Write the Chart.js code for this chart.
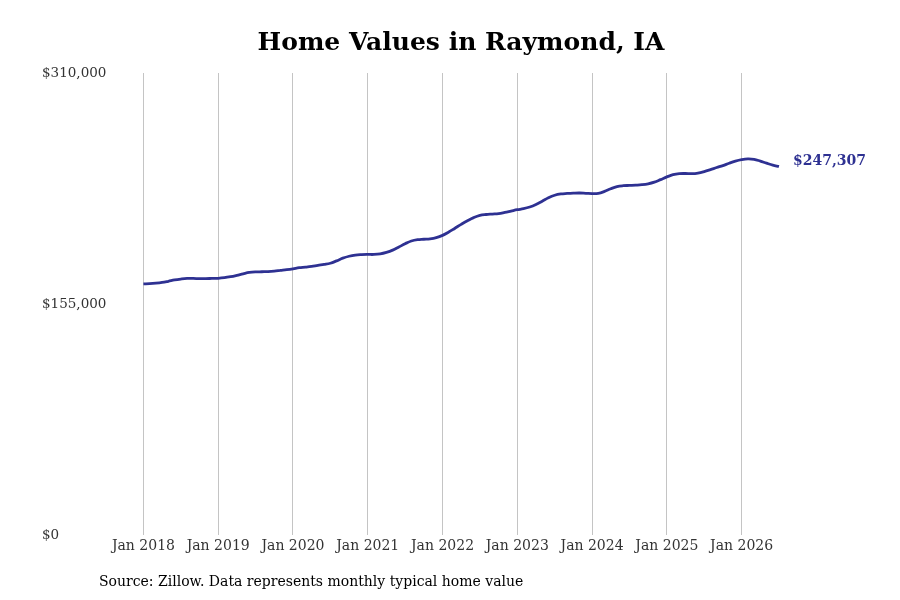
<!DOCTYPE html>
<html>
<head>
<meta charset="utf-8">
<title>Home Values in Raymond, IA</title>
<script src="https://cdn.jsdelivr.net/npm/chart.js@4.4.1/dist/chart.umd.min.js"></script>
<style>
  html, body { margin: 0; padding: 0; background: #fff; }
  #wrap { width: 900px; height: 600px; position: relative; }
</style>
</head>
<body>
<div id="wrap"><canvas id="homeChart" width="900" height="600"></canvas></div>
<script>
const years = [2018, 2019, 2020, 2021, 2022, 2023, 2024, 2025, 2026];
const monthNames = ["Jan", "Feb", "Mar", "Apr", "May", "Jun", "Jul", "Aug", "Sep", "Oct", "Nov", "Dec"];

// typical home value, in thousands of dollars, one row per year (Jan..Dec)
const values2018 = [168.6, 168.7, 169.0, 169.5, 170.3, 171.2, 171.8, 172.2, 172.2, 172.1, 172.1, 172.2];
const values2019 = [172.3, 172.7, 173.4, 174.3, 175.3, 176.2, 176.6, 176.7, 176.8, 177.1, 177.6, 178.1];
const values2020 = [178.7, 179.4, 179.8, 180.3, 181.0, 181.6, 182.4, 184.0, 185.8, 187.1, 187.9, 188.2];
const values2021 = [188.3, 188.3, 188.7, 189.7, 191.2, 193.3, 195.5, 197.3, 198.2, 198.5, 198.8, 199.6];
const values2022 = [201.1, 203.3, 205.9, 208.5, 210.9, 213.0, 214.5, 215.1, 215.4, 215.7, 216.5, 217.4];
const values2023 = [218.3, 219.0, 220.1, 221.8, 224.0, 226.3, 228.0, 228.9, 229.2, 229.4, 229.5, 229.3];
const values2024 = [229.1, 229.3, 230.6, 232.4, 233.8, 234.4, 234.6, 234.8, 235.1, 235.7, 236.8, 238.5];
const values2025 = [240.3, 241.8, 242.5, 242.6, 242.5, 242.9, 243.9, 245.2, 246.6, 247.9, 249.5, 250.9];
const values2026 = [251.9, 252.4, 252.1, 250.9, 249.5, 248.2, 247.307];

const yTicks = [0, 155000, 310000];
const chartTitle = "Home Values in Raymond, IA";
const sourceNote = "Source: Zillow. Data represents monthly typical home value";
const lineColor = "#2e3192";

const serif = "'DejaVu Serif', serif";

function buildLabels() {
  const labels = [];
  const all = [values2018, values2019, values2020, values2021, values2022, values2023, values2024, values2025, values2026];
  all.forEach((row, i) => {
    row.forEach((v, m) => labels.push(monthNames[m] + " " + years[i]));
  });
  return labels;
}

function buildValues() {
  return [].concat(values2018, values2019, values2020, values2021, values2022,
    values2023, values2024, values2025, values2026).map(v => Math.round(v * 1000));
}

function money(v) {
  return "$" + v.toLocaleString("en-US");
}

// title, label at the end of the line, source note under the chart
const extras = {
  id: "extras",
  afterDatasetsDraw(chart) {
    const ctx = chart.ctx;
    const meta = chart.getDatasetMeta(0);
    const last = meta.data[meta.data.length - 1];
    const data = chart.data.datasets[0].data;
    ctx.save();
    ctx.textBaseline = "middle";

    ctx.font = "bold 25px " + serif;
    ctx.fillStyle = "#000";
    ctx.textAlign = "center";
    ctx.fillText(chartTitle, 461, 43);

    ctx.font = "bold 14px " + serif;
    ctx.fillStyle = lineColor;
    ctx.textAlign = "left";
    ctx.fillText(money(data[data.length - 1]), last.x + 14, last.y - 5);

    ctx.font = "14px " + serif;
    ctx.fillStyle = "#000";
    ctx.fillText(sourceNote, 99, 582);
    ctx.restore();
  }
};

window.onload = function () {
  const ctx = document.getElementById("homeChart").getContext("2d");
  const labels = buildLabels();

  new Chart(ctx, {
    type: "line",
    data: {
      labels: labels,
      datasets: [{
        data: buildValues(),
        borderColor: lineColor,
        borderWidth: 2.8,
        pointRadius: 0,
        tension: 0.4,
        fill: false
      }]
    },
    options: {
      responsive: false,
      animation: false,
      layout: { padding: { top: 73, left: 42, right: 121, bottom: 42 } },
      plugins: {
        legend: { display: false },
        tooltip: { enabled: false },
        title: { display: false }
      },
      scales: {
        x: {
          offset: false,
          border: { display: false },
          grid: {
            color: "#c4c4c4",
            lineWidth: 1,
            drawTicks: false
          },
          ticks: {
            autoSkip: false,
            maxRotation: 0,
            minRotation: 0,
            padding: 3,
            color: "#333",
            font: { family: serif, size: 14 },
            callback: function (val, i) {
              const lab = labels[i];
              return lab.startsWith("Jan") ? lab : null;
            }
          }
        },
        y: {
          min: 0,
          max: 310000,
          border: { display: false },
          grid: { display: false, drawTicks: false },
          afterBuildTicks: function (axis) {
            axis.ticks = yTicks.map(v => ({ value: v }));
          },
          ticks: {
            crossAlign: "far",
            padding: 18.5,
            color: "#333",
            font: { family: serif, size: 13.5 },
            callback: v => money(v)
          }
        }
      }
    },
    plugins: [extras]
  });
};
</script>
</body>
</html>
